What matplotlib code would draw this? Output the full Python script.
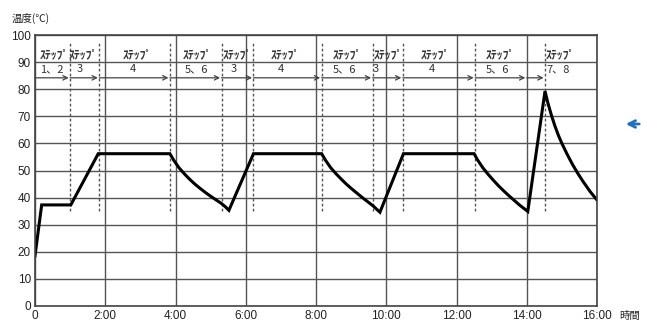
import matplotlib
import matplotlib.pyplot as plt

matplotlib.rcParams['font.family'] = ['Liberation Sans', 'Noto Sans CJK JP', 'DejaVu Sans']

# temperature profile (hours, deg C)
time_h = [0, 0.19, 1.02, 1.80,
          3.84, 3.95, 4.1, 4.25, 4.4, 4.55, 4.7, 4.85, 5.0, 5.15, 5.3, 5.42, 5.52,
          6.22,
          8.16, 8.27, 8.42, 8.57, 8.72, 8.87, 9.02, 9.17, 9.32, 9.47, 9.62, 9.72, 9.82,
          10.49,
          12.5, 12.6, 12.75, 12.9, 13.05, 13.2, 13.35, 13.5, 13.65, 13.8, 13.92, 14.03,
          14.52, 14.6, 14.7, 14.8, 14.9, 15.0, 15.15, 15.3, 15.45, 15.6, 15.8, 16.0]
temp_c = [18.5, 37.3, 37.3, 56.2,
          56.2, 53.8, 51.0, 48.8, 46.8, 45.0, 43.4, 41.9, 40.5, 39.2, 37.9, 36.6, 35.3,
          56.2,
          56.2, 53.8, 51.0, 48.8, 46.8, 44.9, 43.2, 41.6, 40.0, 38.5, 37.0, 35.8, 34.6,
          56.2,
          56.2, 53.9, 51.0, 48.6, 46.4, 44.3, 42.4, 40.6, 38.9, 37.2, 36.0, 34.9,
          79.3, 75.0, 70.5, 66.5, 63.0, 60.0, 56.0, 52.3, 49.0, 46.0, 42.3, 39.1]

step_bounds = [0, 1.0, 1.83, 3.84, 5.31, 6.22, 8.16, 9.61, 10.47, 12.53, 14.0, 14.52]
dashed_at = [1.0, 1.83, 3.84, 5.31, 6.22, 8.16, 9.61, 10.47, 12.53, 14.52]
step_nums = ['1、2', '3', '4', '5、6', '3', '4', '5、6', '3', '4', '5、6', '7、8']
step_word_x = [0.54, 1.39, 2.92, 4.63, 5.76, 7.14, 8.89, 10.05, 11.41, 13.24, 14.97]
step_num_x = [0.47, 1.28, 2.79, 4.60, 5.67, 6.99, 8.80, 9.71, 11.30, 13.18, 14.89]

xticks = list(range(0, 17, 2))
xtick_labels = ['0'] + [f'{h}:00' for h in xticks[1:]]

fig = plt.figure(figsize=(6.46, 3.23), dpi=100)
ax = fig.add_axes([35 / 646, 17 / 323, 562 / 646, 271 / 323])

grid_c = '#555555'
ax.set_xlim(0, 16)
ax.set_ylim(0, 100)
ax.set_xticks(xticks)
ax.set_xticklabels(xtick_labels)
ax.set_yticks(range(0, 101, 10))
ax.tick_params(length=0, labelsize=8.5, pad=3, colors='#222222')
ax.grid(True, color=grid_c, linewidth=1.0)
ax.set_axisbelow(True)
for s in ax.spines.values():
    s.set_color('#444444')
    s.set_linewidth(1.2)

# step boundaries
ax.vlines(dashed_at, 35, 97.5, colors='#555555', linestyles=(0, (2, 1.6)), linewidth=1.0)

# arrows for each step
for a, b in zip(step_bounds[:-1], step_bounds[1:]):
    ax.annotate('', xy=(b - 0.04, 84.2), xytext=(a, 84.2),
                arrowprops=dict(arrowstyle='->', color='#444444', lw=0.9,
                                shrinkA=0, shrinkB=0, mutation_scale=8))

for xw, xn, num in zip(step_word_x, step_num_x, step_nums):
    ax.text(xw, 92.6, 'ｽﾃｯﾌﾟ', ha='center', va='center', fontsize=8.5,
            family=['Noto Sans CJK JP'], color='#333333', fontweight='bold')
    ax.text(xn, 87.4, num, ha='center', va='center', fontsize=8,
            family=['Noto Sans CJK JP'], color='#333333')

ax.plot(time_h, temp_c, color='black', linewidth=2.2, solid_joinstyle='miter')

fig.text(12 / 646, 1 - 18 / 323, '温度(℃)', ha='left', va='center', fontsize=7.5,
         family=['Noto Sans CJK JP'], color='#222222')
fig.text(619 / 646, 1 - 316 / 323, '時間', ha='left', va='center', fontsize=7.5,
         family=['Noto Sans CJK JP'], color='#222222')

fig.patches.append(matplotlib.patches.FancyArrowPatch(
    (642, 323 - 124), (623, 323 - 124), transform=None,
    arrowstyle='->', mutation_scale=12, color='#1f6fc5', lw=2.0))

fig.savefig('out.png', dpi=100)
